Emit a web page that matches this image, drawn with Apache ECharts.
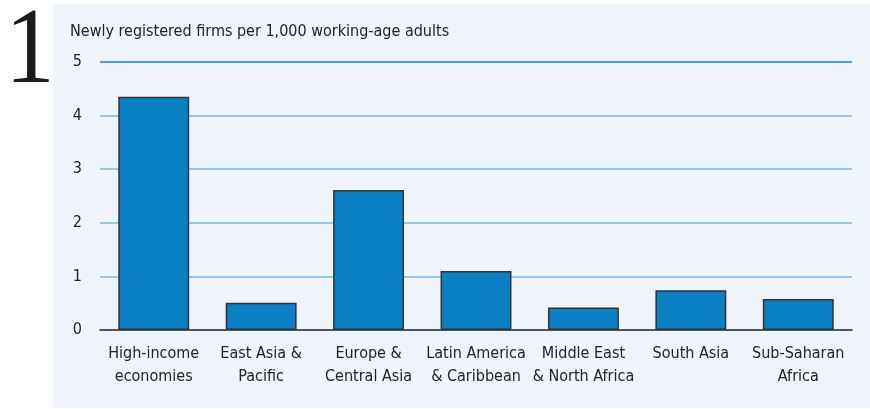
<!DOCTYPE html>
<html><head><meta charset="utf-8">
<script src="https://cdn.jsdelivr.net/npm/echarts@6/dist/echarts.min.js"></script>
<style>html,body{margin:0;padding:0;background:#fff}#c{width:870px;height:409px}</style>
</head><body><div id="c"></div>
<script>
const categories = ["High-income\neconomies","East Asia &\nPacific","Europe &\nCentral Asia","Latin America\n& Caribbean","Middle East\n& North Africa","South Asia","Sub-Saharan\nAfrica"];
const values = [4.35, 0.51, 2.61, 1.1, 0.42, 0.74, 0.58];
const yTicks = [0, 1, 2, 3, 4, 5];
const title = "Newly registered firms per 1,000 working-age adults";
const FONT = "'Liberation Sans Narrow','DejaVu Sans Condensed',sans-serif";

const chart = echarts.init(document.getElementById('c'), null, {renderer:'canvas'});
chart.setOption({
  animation:false,
  graphic:[
    {type:'rect', z:-10, shape:{x:53,y:4,width:817,height:404}, style:{fill:'#eff3fa'}},
    {type:'text', x:5, y:0, scaleX:0.92, style:{text:'1', font:"108px 'Liberation Serif','DejaVu Serif',serif", fill:'#1a1a1a'}},
    {type:'text', left:70, top:24, style:{text:title, font:"16px "+FONT, fill:'#222'}}
  ],
  grid:{left:100, right:18, top:62, bottom:79},
  xAxis:{type:'category', data:categories,
    axisLine:{lineStyle:{color:'#333', width:1.5}}, axisTick:{show:false},
    axisLabel:{interval:0, color:'#222', fontFamily:FONT, fontSize:16, lineHeight:23, margin:12}},
  yAxis:{type:'value', min:0, max:5, interval:1,
    axisLine:{show:false}, axisTick:{show:false},
    axisLabel:{color:'#222', fontFamily:FONT, fontSize:16, margin:18, formatter:v=>yTicks.includes(v)?String(v):''},
    splitLine:{lineStyle:{color:['#7ab8dc','#7ab8dc','#7ab8dc','#7ab8dc','#7ab8dc','#0a86c8'], width:1.5}}},
  series:[{type:'bar', data:values, barWidth:'66%',
    itemStyle:{color:'#0a7fc4', borderColor:'#333', borderWidth:1.5}}]
});
</script></body></html>
